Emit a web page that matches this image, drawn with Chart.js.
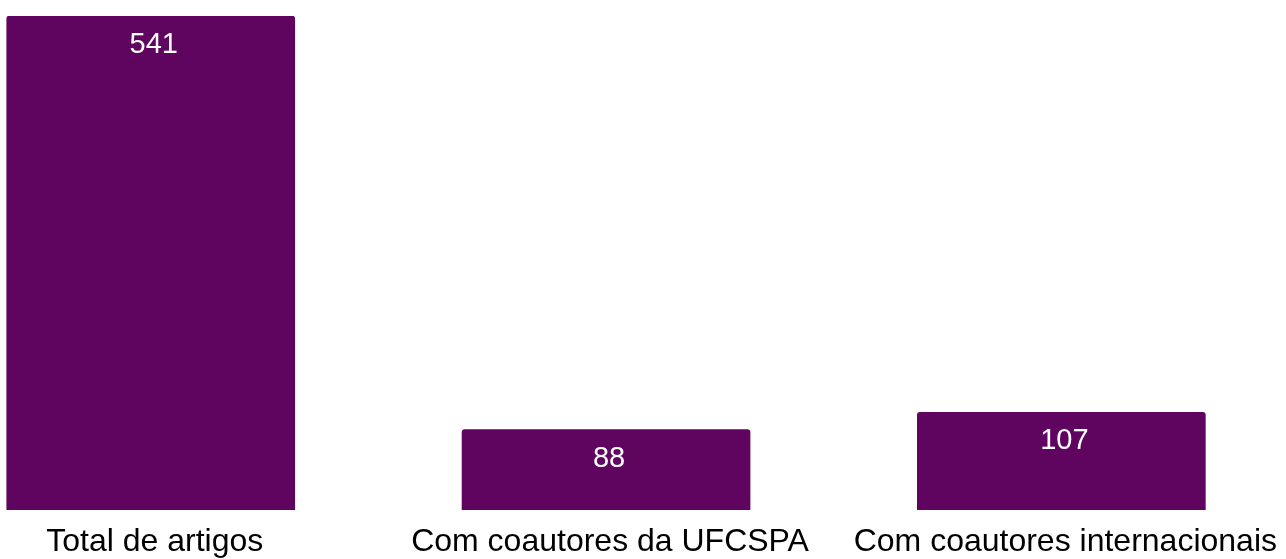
<!DOCTYPE html>
<html>
<head>
<meta charset="utf-8">
<script src="https://cdn.jsdelivr.net/npm/chart.js@4/dist/chart.umd.min.js"></script>
<style>
  html, body { margin: 0; padding: 0; background: #ffffff; }
  #wrap { width: 1286px; height: 559px; position: relative; }
</style>
</head>
<body>
<div id="wrap"><canvas id="c"></canvas></div>
<script>
const categories = ["Total de artigos", "Com coautores da UFCSPA", "Com coautores internacionais"];
const values = [541, 88, 107];

const barColor = '#5F045F';

const valueLabels = {
  id: 'valueLabels',
  afterDatasetsDraw(chart) {
    const ctx = chart.ctx;
    const meta = chart.getDatasetMeta(0);
    ctx.save();
    ctx.fillStyle = '#ffffff';
    ctx.font = '29px "Liberation Sans", Arial, sans-serif';
    ctx.textAlign = 'center';
    ctx.textBaseline = 'alphabetic';
    meta.data.forEach((bar, i) => {
      ctx.fillText(String(values[i]), bar.x + 3, bar.y + 37);
    });
    ctx.restore();
  }
};

new Chart(document.getElementById('c'), {
  type: 'bar',
  data: {
    datasets: [{
      data: categories.map((c, i) => ({ x: i, y: values[i] })),
      backgroundColor: barColor,
      borderWidth: 0,
      borderRadius: 3,
      barThickness: 288
    }]
  },
  options: {
    responsive: true,
    maintainAspectRatio: false,
    animation: false,
    layout: { padding: { top: 16, bottom: 0, left: 0, right: 0 } },
    plugins: {
      legend: { display: false },
      tooltip: { enabled: false }
    },
    scales: {
      x: {
        type: 'linear',
        offset: false,
        min: -0.3311,
        max: 2.4890,
        grid: { display: false, drawTicks: false },
        border: { display: false },
        afterFit: (scale) => { scale.height = 49; },
        ticks: {
          stepSize: 1,
          includeBounds: false,
          autoSkip: false,
          maxRotation: 0,
          padding: 13,
          labelOffset: 4,
          color: '#000000',
          font: { family: '"Liberation Sans", Arial, sans-serif', size: 32 },
          callback: (v) => (Number.isInteger(v) && categories[v] !== undefined) ? categories[v] : ''
        }
      },
      y: {
        display: false,
        min: 0,
        max: 541
      }
    }
  },
  plugins: [valueLabels]
});
</script>
</body>
</html>
